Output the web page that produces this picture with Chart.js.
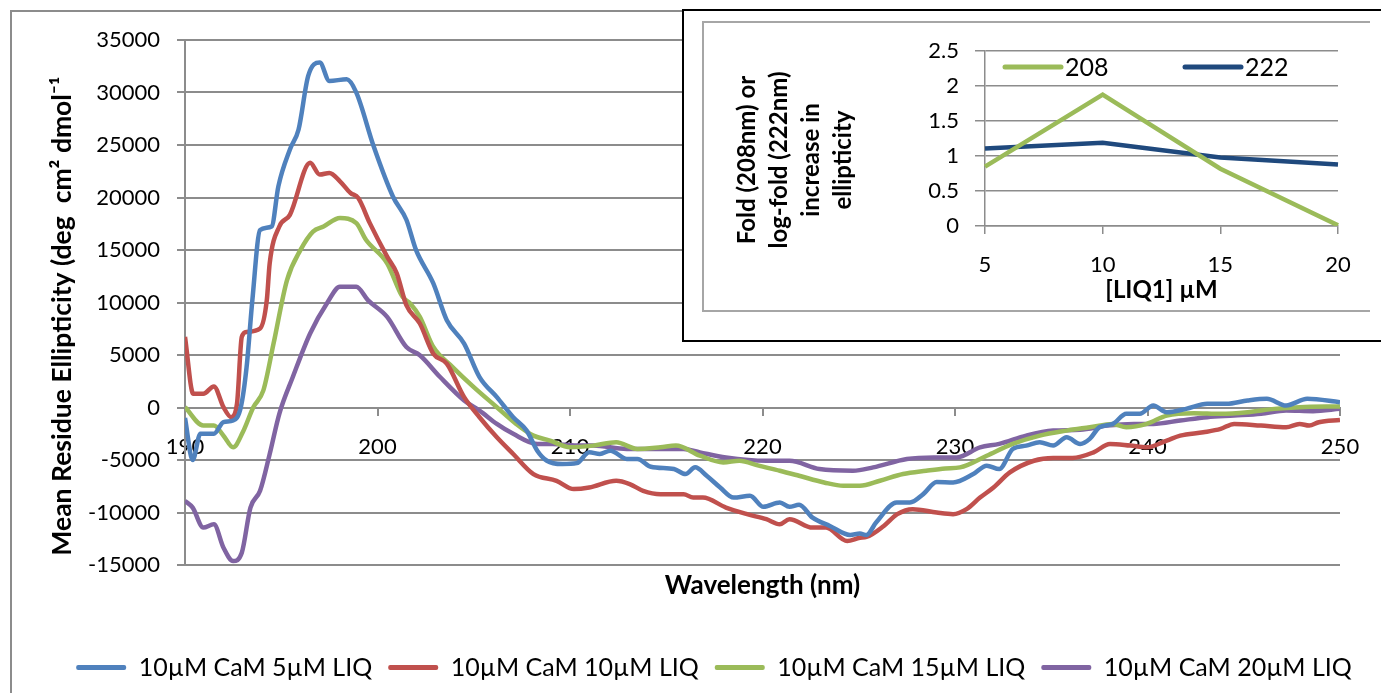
<!DOCTYPE html>
<html>
<head>
<meta charset="utf-8">
<script src="https://cdn.jsdelivr.net/npm/chart.js@4.4.1/dist/chart.umd.min.js"></script>
<style>
  html, body { margin: 0; padding: 0; background: #fff; overflow: hidden; }
  #frame { position: absolute; left: 10px; top: 10px; width: 1400px; height: 700px; border: 2px solid #8c8c8c; }
  #main { position: absolute; left: 0; top: 0; }
  #insetBox { position: absolute; left: 682px; top: 9px; width: 720px; height: 329px; border: 2px solid #000; background: #fff; }
  #insetInner { position: absolute; left: 702px; top: 21px; width: 666px; height: 287px; border: 2px solid #a6a6a6; border-right: none; }
  #inset { position: absolute; left: 697px; top: 22px; }
</style>
</head>
<body>
<div id="frame"></div>
<canvas id="main" width="1381" height="693"></canvas>
<div id="insetBox"></div>
<div id="insetInner"></div>
<canvas id="inset" width="684" height="288"></canvas>
<script>
// main CD spectra (wavelength nm / mean residue ellipticity)
let seriesNames = ['10µM CaM 5µM LIQ', '10µM CaM 10µM LIQ', '10µM CaM 15µM LIQ', '10µM CaM 20µM LIQ'];
let seriesColors = ['#4F81BD', '#C0504D', '#9BBB59', '#8064A2'];
let mainTitleLines = ['Mean Residue Ellipticity (deg  cm² dmol⁻¹'];

let nm5 = [190, 190.4, 190.8, 191.5, 192, 192.5, 192.9, 193.2, 193.5, 193.9, 194.5, 194.85, 195.45, 195.9, 196.4, 197, 197.5, 198.4, 198.9, 199.8,
  200.8, 201.5, 202, 202.9, 203.6, 204.5, 205.3, 206.2, 207.05, 207.75, 208.3, 208.8, 209.6, 210.35, 211, 211.55, 212.1, 212.95, 213.5, 214.2,
  215.4, 216, 216.5, 217.1, 217.8, 218.5, 219.35, 220.05, 220.9, 221.4, 221.9, 222.6, 223.5, 224.55, 225.06, 225.4, 225.9, 226.97, 227.66, 228.35,
  229.05, 229.9, 230.95, 231.65, 232.3, 233, 233.7, 234.4, 235.1, 235.8, 236.5, 237, 237.5, 238.2, 238.9, 239.6, 240.3, 241, 242, 243.1,
  244.1, 245.2, 246.2, 247.2, 248.3, 250];
let val5 = [-1000, -5000, -2500, -2500, -1400, -1240, 30, 3850, 10230, 16900, 17240, 21060, 24570, 26480, 31580, 32860, 31100, 31260, 29990, 24880,
  20100, 17880, 15010, 11820, 8320, 6090, 2900, 985, -925, -2200, -4110, -5070, -5380, -5300, -4270, -4430, -4110, -4900, -4900, -5640,
  -5860, -6340, -5700, -6500, -7620, -8580, -8410, -9460, -9050, -9460, -9270, -10490, -11280, -12140, -12010, -12140, -10960, -9050, -9050, -8250,
  -7100, -7140, -6340, -5540, -5860, -3950, -3630, -3310, -3630, -2840, -3470, -2990, -1880, -1560, -600, -600, 190, -450, -130, 350,
  350, 670, 830, 190, 830, 510];

let nm10 = [190, 190.43, 190.95, 191.5, 192, 192.4, 192.7, 192.95, 193.2, 193.9, 194.25, 194.4, 194.9, 195.45, 196.5, 197, 197.5, 198.05, 198.6, 199,
  199.6, 200.5, 201, 201.5, 202.2, 202.9, 203.6, 204.5, 205.3, 206.2, 207.05, 208.1, 209.3, 210.2, 211, 212.4, 213.1, 213.8, 214.7, 215.9,
  216.4, 216.9, 218.1, 219.2, 220.2, 220.9, 221.4, 222.6, 223.3, 224.4, 225.06, 225.4, 226.3, 227, 227.8, 229.05, 229.9, 230.6, 231.3, 232,
  232.85, 234.1, 235.1, 236.1, 237.2, 238.05, 239.1, 239.96, 241, 241.7, 242.9, 243.8, 244.5, 245.9, 247.2, 247.9, 248.4, 248.9, 250];
let val10 = [6720, 1310, 1310, 2010, 30, -925, 350, 6720, 7200, 7520, 10230, 13740, 17240, 18350, 23300, 22180, 22340, 21540, 20430, 19950,
  17560, 14370, 12780, 9750, 8000, 5130, 4180, 985, -925, -2840, -4430, -6340, -6980, -7770, -7620, -6980, -7290, -7930, -8250, -8250,
  -8580, -8580, -9530, -10160, -10640, -11120, -10640, -11440, -11440, -12710, -12400, -12330, -11280, -10160, -9680, -10010, -10160, -9680, -8580, -7620,
  -6180, -5070, -4810, -4810, -4270, -3470, -3630, -3790, -3150, -2680, -2360, -2040, -1560, -1720, -1880, -1560, -1720, -1400, -1180];

let nm15 = [190, 190.95, 191.5, 192, 192.5, 193, 193.55, 194.07, 194.6, 195.3, 196, 196.65, 197.2, 198.05, 198.9, 199.4, 200.5, 201.3, 201.7, 202.2,
  202.9, 203.9, 205, 206.2, 207.2, 208.1, 208.96, 210, 211.2, 212.4, 213.5, 214.7, 215.5, 216.75, 217.96, 218.8, 219.8, 220.9, 221.9, 223.2,
  224.2, 225.06, 226.1, 227.3, 228.5, 229.5, 230.26, 231.65, 233, 234.4, 235.8, 237, 238.2, 238.9, 239.96, 241, 242.4, 243.8, 245.2, 246.6,
  247.9, 250];
let val15 = [30, -1720, -1720, -2680, -3790, -2360, 30, 1625, 6090, 12140, 15010, 16760, 17240, 18040, 17560, 15970, 13740, 10540, 9910, 8630,
  5760, 3850, 1940, 30, -1560, -2680, -3150, -3790, -3630, -3310, -3950, -3790, -3630, -4590, -5230, -5070, -5540, -6020, -6500, -7140,
  -7460, -7460, -6980, -6340, -6020, -5800, -5700, -4590, -3470, -2680, -2200, -1880, -1560, -1880, -1560, -770, -540, -600, -450, -130,
  30, 100];

let nm20 = [190, 190.4, 190.95, 191.5, 192, 192.5, 192.95, 193.4, 193.9, 194.4, 194.9, 195.6, 196.5, 197.4, 198.05, 198.9, 199.5, 200.5, 201.5, 202.2,
  203.25, 204.5, 205.3, 206.2, 207.05, 208.3, 209.1, 210.35, 211.2, 212.95, 214.7, 215.9, 216.75, 218.1, 220.2, 221.4, 222.96, 224.7, 225.75, 227.5,
  228.9, 230.1, 231.3, 232.3, 233.7, 235.1, 236.5, 237.9, 239.3, 240.3, 241.7, 243.1, 244.5, 245.9, 247.2, 248.6, 250];
let val20 = [-8890, -9530, -11440, -11120, -13350, -14630, -13830, -9530, -7930, -4430, -600, 2900, 7050, 10000, 11500, 11500, 10230, 8630, 5760, 4970,
  2900, 670, -290, -1560, -2510, -3470, -3470, -3630, -3630, -3950, -3950, -3950, -4270, -4750, -5070, -5070, -5860, -6020, -5700, -4900,
  -4750, -4750, -3790, -3470, -2680, -2200, -2130, -1720, -1560, -1560, -1240, -925, -770, -600, -290, -350, -130];

// inset: fold change vs LIQ1 concentration
let liqConc = ['5', '10', '15', '20'];
let fold208 = [0.85, 1.88, 0.82, 0.01];
let fold222 = [1.11, 1.19, 0.98, 0.88];
let insetNames = ['208', '222'];
let insetColors = ['#9BBB59', '#1F497D'];
let insetTitleLines = ['Fold (208nm) or', 'log-fold (222nm)', 'increase in', 'ellipticity'];

Chart.defaults.font.family = 'Lato';
Chart.defaults.color = '#000';

let gridGray = '#8c8c8c';

function toPoints(xs, ys) {
  return xs.map(function (x, i) { return { x: x, y: ys[i] }; });
}

// rotated y title, placed where the original had it
let sideTitle = {
  id: 'sideTitle',
  afterDraw: function (chart, args, opts) {
    let ctx = chart.ctx;
    ctx.save();
    ctx.fillStyle = '#000';
    ctx.font = 'bold ' + opts.size + 'px Lato';
    ctx.textAlign = 'center';
    ctx.textBaseline = 'middle';
    ctx.translate(opts.x, opts.y);
    ctx.rotate(-Math.PI / 2);
    opts.lines.forEach(function (t, i) {
      ctx.fillText(t, 0, (i - (opts.lines.length - 1) / 2) * opts.gap);
    });
    ctx.restore();
  }
};

let mainSets = [[nm5, val5], [nm10, val10], [nm15, val15], [nm20, val20]].map(function (s, i) {
  return {
    label: seriesNames[i],
    data: toPoints(s[0], s[1]),
    borderColor: seriesColors[i],
    backgroundColor: seriesColors[i],
    borderWidth: 4.5,
    pointRadius: 0,
    cubicInterpolationMode: 'monotone',
    fill: false
  };
});

new Chart(document.getElementById('main'), {
  type: 'line',
  data: { datasets: mainSets },
  options: {
    responsive: false,
    animation: false,
    events: [],
    layout: { padding: { left: 47, right: 0, top: 40, bottom: 3 } },
    scales: {
      x: {
        type: 'linear',
        position: { y: 0 },
        min: 190,
        max: 250,
        ticks: { stepSize: 10, padding: 19, maxRotation: 0, font: { size: 22 } },
        grid: { drawOnChartArea: false, tickLength: 7, color: gridGray, lineWidth: 2 },
        border: { color: gridGray, width: 2 }
      },
      x2: {
        type: 'linear',
        position: 'bottom',
        min: 190,
        max: 250,
        ticks: { display: false },
        grid: { display: false },
        border: { display: false },
        title: { display: true, text: 'Wavelength (nm)', font: { size: 26, weight: 'bold' }, padding: { top: 0, bottom: 38 } },
        afterFit: function (s) { s.height = 74; }
      },
      y: {
        min: -15000,
        max: 35000,
        ticks: { stepSize: 5000, padding: 17, font: { size: 22 }, callback: function (v) { return String(v); } },
        grid: { color: gridGray, lineWidth: 2, tickLength: 8 },
        border: { color: gridGray, width: 2 },
        afterFit: function (s) { s.width = 138; }
      },
      yr: {
        type: 'linear',
        position: 'right',
        ticks: { display: false },
        grid: { display: false },
        border: { display: false },
        afterFit: function (s) { s.width = 41; }
      }
    },
    plugins: {
      tooltip: { enabled: false },
      sideTitle: { lines: mainTitleLines, x: 62, y: 316, size: 26.5, gap: 32 },
      legend: {
        position: 'bottom',
        labels: {
          boxWidth: 50,
          boxHeight: 5,
          padding: 16,
          font: { size: 25 },
          generateLabels: function (chart) {
            let items = Chart.defaults.plugins.legend.labels.generateLabels(chart);
            items.forEach(function (it) { it.lineWidth = 0; it.borderRadius = 2; });
            return items;
          }
        }
      }
    }
  },
  plugins: [sideTitle]
});

// line key for the inset, drawn inside its plot area
let insetKey = {
  id: 'insetKey',
  afterDraw: function (chart) {
    let ctx = chart.ctx;
    ctx.save();
    let keyX = [308, 488];
    ctx.font = '25px Lato';
    ctx.textBaseline = 'middle';
    ctx.lineCap = 'round';
    chart.data.datasets.forEach(function (ds, i) {
      ctx.strokeStyle = ds.borderColor;
      ctx.lineWidth = 5;
      ctx.beginPath();
      ctx.moveTo(keyX[i], 45);
      ctx.lineTo(keyX[i] + 56, 45);
      ctx.stroke();
      ctx.fillStyle = '#000';
      ctx.fillText(ds.label, keyX[i] + 60, 46);
    });
    ctx.restore();
  }
};

new Chart(document.getElementById('inset'), {
  type: 'line',
  data: {
    labels: liqConc,
    datasets: [fold208, fold222].map(function (d, i) {
      return {
        label: insetNames[i],
        data: d,
        borderColor: insetColors[i],
        backgroundColor: insetColors[i],
        borderWidth: 4.5,
        pointRadius: 0,
        tension: 0
      };
    })
  },
  options: {
    responsive: false,
    animation: false,
    events: [],
    layout: { padding: { left: 0, right: 43, top: 20, bottom: 0 } },
    scales: {
      x: {
        offset: false,
        ticks: { padding: 18, font: { size: 22 } },
        grid: { drawOnChartArea: false, tickLength: 8, color: gridGray, lineWidth: 1.5 },
        border: { color: gridGray, width: 1.5 },
        title: { display: true, text: '[LIQ1] µM', font: { size: 24, weight: 'bold' }, padding: { top: 0, bottom: 5 } },
        afterFit: function (s) { s.height = 84; }
      },
      y: {
        min: 0,
        max: 2.5,
        ticks: { stepSize: 0.5, padding: 16, font: { size: 22 }, callback: function (v) { return String(v); } },
        grid: { color: gridGray, lineWidth: 1.5, tickLength: 10 },
        border: { color: gridGray, width: 1.5 },
        afterFit: function (s) { s.width = 288; }
      }
    },
    plugins: {
      tooltip: { enabled: false },
      legend: { display: false },
      sideTitle: { lines: insetTitleLines, x: 98, y: 138, size: 24, gap: 32 }
    }
  },
  plugins: [sideTitle, insetKey]
});
</script>
</body>
</html>
